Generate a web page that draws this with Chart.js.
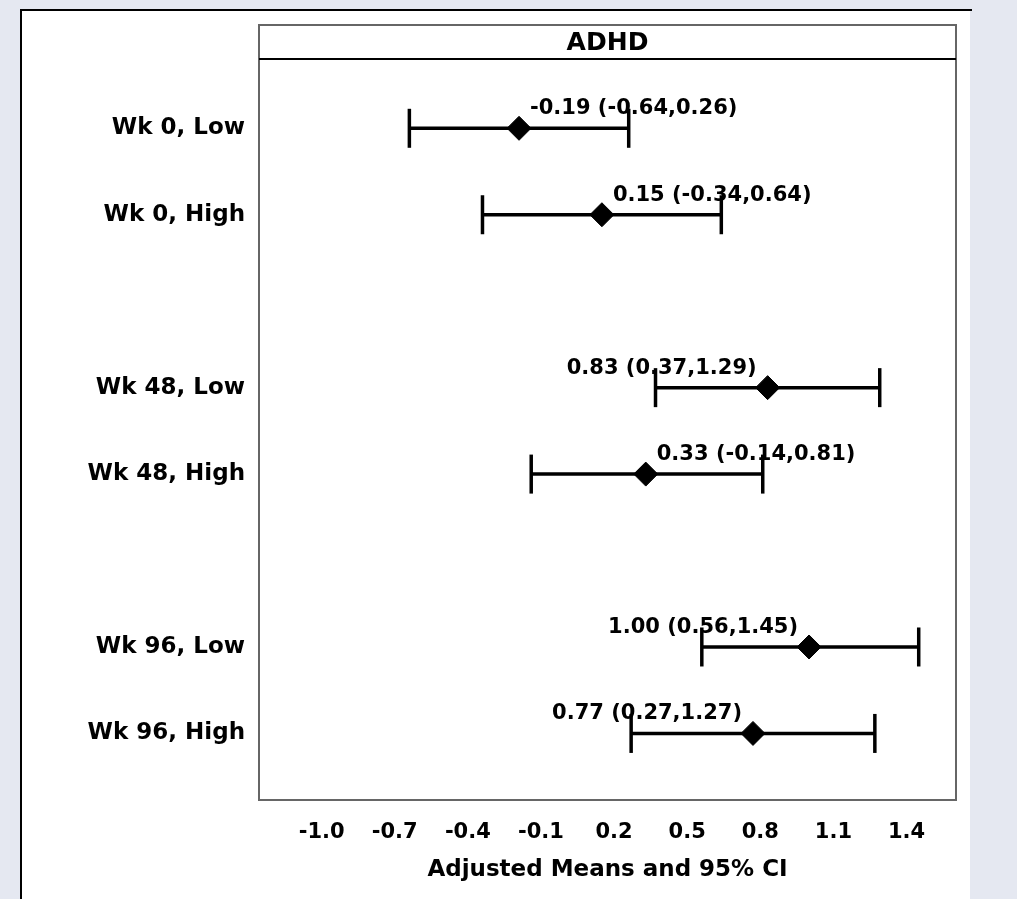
<!DOCTYPE html>
<html>
<head>
<meta charset="utf-8">
<script src="https://cdn.jsdelivr.net/npm/chart.js@4.4.1/dist/chart.umd.min.js"></script>
<style>
html,body{margin:0;padding:0;background:#e5e8f1;overflow:hidden}
canvas{display:block}
</style>
</head>
<body>
<canvas id="c" width="1017" height="899"></canvas>
<script>
// ---- data ----
const panelTitle = 'ADHD';
const axisTitle = 'Adjusted Means and 95% CI';
const categories = ['Wk 0, Low', 'Wk 0, High', '', 'Wk 48, Low', 'Wk 48, High', '', 'Wk 96, Low', 'Wk 96, High'];
const means = [-0.19, 0.15, null, 0.83, 0.33, null, 1.00, 0.77];
const lower = [-0.64, -0.34, null, 0.37, -0.14, null, 0.56, 0.27];
const upper = [0.26, 0.64, null, 1.29, 0.81, null, 1.45, 1.27];
const xTicks = [-1.0, -0.7, -0.4, -0.1, 0.2, 0.5, 0.8, 1.1, 1.4];

const FONT = "'DejaVu Sans', Verdana, sans-serif";
const rows = categories.map((c, i) => i).filter(i => categories[i] !== '');

const ciDatasets = rows.map(i => ({
  type: 'scatter',
  data: [{x: lower[i], y: i}, {x: upper[i], y: i}],
  showLine: true,
  borderColor: '#000',
  borderWidth: 3.5,
  pointStyle: 'line',
  pointRotation: 90,
  pointRadius: 19.5,
  pointHoverRadius: 19.5,
  pointBorderWidth: 3.5,
  pointBorderColor: '#000',
  order: 2
}));

const meanDataset = {
  type: 'scatter',
  data: rows.map(i => ({x: means[i], y: i})),
  showLine: false,
  pointStyle: 'rectRot',
  pointRadius: 12,
  pointHoverRadius: 12,
  pointBackgroundColor: '#000',
  pointBorderColor: '#000',
  pointBorderWidth: 1,
  order: 1
};

const FRAME_TOP = 25;

const decor = {
  id: 'decor',
  beforeDraw(chart) {
    const ctx = chart.ctx;
    ctx.save();
    ctx.fillStyle = '#ffffff';
    ctx.fillRect(20, 9, 950, 890);
    ctx.strokeStyle = '#000';
    ctx.lineWidth = 2;
    ctx.beginPath();
    ctx.moveTo(20, 10); ctx.lineTo(972, 10);
    ctx.moveTo(21, 9); ctx.lineTo(21, 899);
    ctx.stroke();
    ctx.restore();
  },
  beforeDatasetsDraw(chart) {
    const {ctx, chartArea, scales: {x, y}} = chart;
    ctx.save();
    ctx.font = `bold 21px ${FONT}`;
    ctx.fillStyle = '#000';
    ctx.textBaseline = 'alphabetic';
    rows.forEach(i => {
      const txt = `${means[i].toFixed(2)} (${lower[i].toFixed(2)},${upper[i].toFixed(2)})`;
      const px = x.getPixelForValue(means[i]);
      const py = y.getPixelForValue(i);
      const w = ctx.measureText(txt).width;
      if (px + 11 + w <= chartArea.right - 10) {
        ctx.textAlign = 'left';
        ctx.fillText(txt, px + 11, py - 14);
      } else {
        ctx.textAlign = 'right';
        ctx.fillText(txt, px - 11, py - 14);
      }
    });
    ctx.restore();
  },
  afterDraw(chart) {
    const {ctx, chartArea} = chart;
    const l = chartArea.left, r = chartArea.right, b = chartArea.bottom, t = chartArea.top;
    ctx.save();
    ctx.strokeStyle = '#666';
    ctx.lineWidth = 2;
    ctx.strokeRect(l, FRAME_TOP, r - l, b - FRAME_TOP);
    ctx.strokeStyle = '#000';
    ctx.beginPath();
    ctx.moveTo(l, t - 1); ctx.lineTo(r, t - 1);
    ctx.stroke();
    ctx.fillStyle = '#000';
    ctx.font = `bold 25px ${FONT}`;
    ctx.textAlign = 'center';
    ctx.textBaseline = 'middle';
    ctx.fillText(panelTitle, (l + r) / 2, (FRAME_TOP + t) / 2 + 1);
    ctx.restore();
  }
};

new Chart(document.getElementById('c'), {
  type: 'scatter',
  data: {datasets: [meanDataset, ...ciDatasets]},
  options: {
    responsive: false,
    animation: false,
    events: [],
    layout: {padding: {left: 0, right: 61, top: 60, bottom: 0}},
    plugins: {legend: {display: false}, tooltip: {enabled: false}, title: {display: false}},
    scales: {
      x: {
        type: 'linear', position: 'bottom', min: -1.257, max: 1.603,
        afterBuildTicks: s => { s.ticks = xTicks.map(v => ({value: v})); },
        afterFit: s => { s.height = 99; },
        grid: {display: false, drawTicks: false},
        border: {display: false},
        ticks: {
          color: '#000', font: {family: FONT, size: 21, weight: 'bold'},
          padding: 20, autoSkip: false, maxRotation: 0,
          callback: v => Number(v).toFixed(1)
        },
        title: {
          display: true, text: axisTitle, color: '#000',
          font: {family: FONT, size: 23, weight: 'bold'},
          padding: {top: 0, bottom: 15}
        }
      },
      y: {
        type: 'linear', reverse: true, min: -0.79, max: 7.77,
        afterBuildTicks: s => { s.ticks = rows.map(i => ({value: i})); },
        afterFit: s => { s.width = 259; },
        grid: {display: false, drawTicks: false},
        border: {display: false},
        ticks: {
          color: '#000', font: {family: FONT, size: 23, weight: 'bold'},
          padding: 14, autoSkip: false,
          callback: v => categories[v]
        }
      }
    }
  },
  plugins: [decor]
});
</script>
</body>
</html>
